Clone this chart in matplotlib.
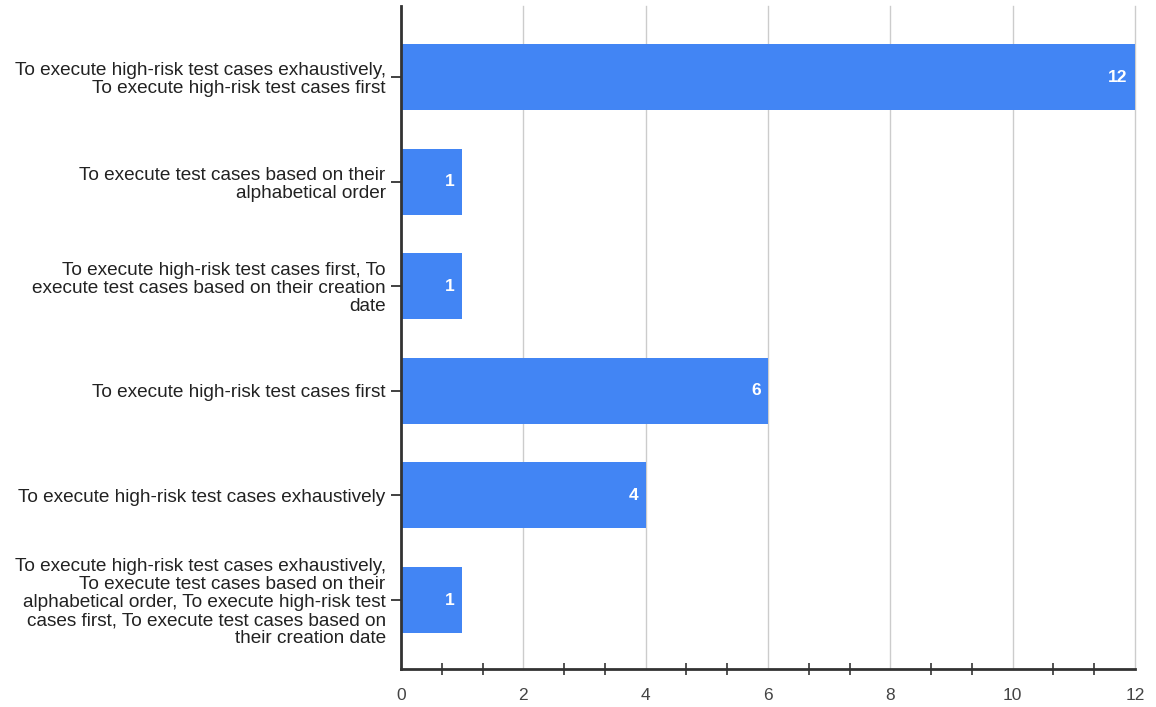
import numpy as np
import matplotlib.pyplot as plt

categories = [
    "To execute high-risk test cases exhaustively,\nTo execute high-risk test cases first",
    "To execute test cases based on their\nalphabetical order",
    "To execute high-risk test cases first, To\nexecute test cases based on their creation\ndate",
    "To execute high-risk test cases first",
    "To execute high-risk test cases exhaustively",
    "To execute high-risk test cases exhaustively,\nTo execute test cases based on their\nalphabetical order, To execute high-risk test\ncases first, To execute test cases based on\ntheir creation date",
]
counts = [12, 1, 1, 6, 4, 1]
x_ticks = [0, 2, 4, 6, 8, 10, 12]

plt.rcParams['font.family'] = ['Liberation Sans', 'DejaVu Sans']

fig = plt.figure(figsize=(11.56, 7.07), dpi=100)
ax = fig.add_axes([0.3469, 0.0537, 0.6349, 0.9378])

y = np.arange(len(categories))
bars = ax.barh(y, counts, height=0.63, color='#4285f4', zorder=3)

for b, v in zip(bars, counts):
    ax.text(b.get_width() - 0.12, b.get_y() + b.get_height() / 2, str(v),
            ha='right', va='center', color='white', fontsize=12.5,
            fontweight='bold', zorder=4)

ax.set_xlim(0, 12)
ax.set_ylim(len(categories) - 1 + 0.66, -0.68)

ax.set_xticks(x_ticks)
ax.set_xticklabels([str(t) for t in x_ticks])
minor = [t for t in np.arange(0, 12, 2 / 3) if abs(t / 2 - round(t / 2)) > 0.01]
ax.set_xticks(minor, minor=True)
ax.tick_params(axis='x', which='major', length=0, pad=14, labelsize=12.5,
               labelcolor='#444444')
ax.tick_params(axis='x', which='minor', direction='inout', length=9,
               width=1.3, color='#444444')

ax.set_yticks(y)
ax.set_yticklabels(categories, fontsize=13.7, color='#222222', linespacing=1.08)
for t in ax.get_yticklabels():
    t.set_multialignment('right')
ax.tick_params(axis='y', direction='inout', length=14, width=1.3,
               color='#333333', pad=4)

ax.grid(axis='x', color='#cccccc', linewidth=1, zorder=0)
for line in ax.get_xgridlines():
    line.set_clip_on(False)
for s in ['top', 'right']:
    ax.spines[s].set_visible(False)
for s in ['left', 'bottom']:
    ax.spines[s].set_color('#333333')
    ax.spines[s].set_linewidth(2)
    ax.spines[s].set_zorder(5)

fig.savefig('out.png', dpi=100)
